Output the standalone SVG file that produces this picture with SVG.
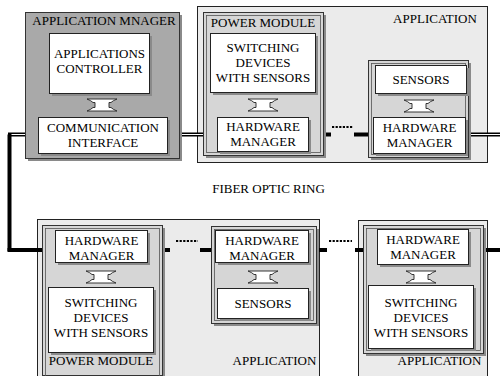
<svg xmlns="http://www.w3.org/2000/svg" width="500" height="376" viewBox="0 0 500 376">
  <defs>
    <style>
      text { font-family: "Liberation Serif", "Times New Roman", serif; font-size: 13px; fill: #000; text-anchor: middle; }
      .panel { fill: #ebebeb; stroke: #222; stroke-width: 1; }
      .mgr { fill: #a9a9a9; stroke: #333; stroke-width: 1; }
      .mod { fill: #d6d6d6; stroke: #333; stroke-width: 1; }
      .modin { fill: none; stroke: #555; stroke-width: 0.8; }
      .box { fill: #fff; stroke: #222; stroke-width: 1; }
      .shadow { fill: #8a8a8a; }
      .arrow { fill: #fff; stroke: #222; stroke-width: 0.9; }
      .ring { stroke: #000; stroke-width: 4; fill: none; }
      .ringcore { stroke: #fff; stroke-width: 1; fill: none; }
      .dots { stroke: #000; stroke-width: 2.2; stroke-dasharray: 2.2 1.4; fill: none; }
    </style>
    <!-- hollow double-headed link between stacked boxes -->
    <path id="dbl" class="arrow" d="M-15,0.5 H15 Q11,2 9,4 H7 V9 H9 Q11,11 15,12.5 H-15 Q-11,11 -9,9 H-7 V4 H-9 Q-11,2 -15,0.5 Z"/>
  </defs>

  <!-- background panels -->
  <g id="app-top">
    <rect class="panel" x="197.5" y="6.5" width="290" height="156"/>
    <text x="435" y="23">APPLICATION</text>
  </g>
  <g id="app-bottom-mid">
    <rect class="panel" x="37.5" y="219.5" width="282" height="170"/>
    <text x="274.5" y="365">APPLICATION</text>
  </g>
  <g id="app-bottom-right">
    <rect class="panel" x="358.5" y="220.5" width="129" height="170"/>
    <text x="439.5" y="365">APPLICATION</text>
  </g>

  <!-- fiber optic ring -->
  <g id="connectors">
    <path class="ring" d="M9.5,134.5 V251"/>
    <path class="ring" d="M8,134.5 H38"/>
    <path class="ringcore" d="M11.5,134.5 H38"/>
    <path class="ring" d="M167,134.5 H217"/>
    <path class="ringcore" d="M167,134.5 H217"/>
    <path class="ring" d="M308,134.5 H331"/>
    <path class="ring" d="M354,134.5 H373"/>
    <path class="ring" d="M465,134.5 H500"/>
    <path class="ringcore" d="M465,134.5 H500"/>
    <path class="dots" d="M332,127 H353"/>
    <path class="ring" d="M7.5,250 H55"/>
    <path class="ring" d="M147,250 H170"/>
    <path class="dots" d="M176,241 H198"/>
    <path class="ring" d="M200,250 H215"/>
    <path class="ring" d="M308,250 H327"/>
    <path class="dots" d="M329,241 H352"/>
    <path class="ring" d="M355,250 H377"/>
    <path class="ring" d="M468,250 H500"/>
  </g>

  <text id="ring-label" x="268.5" y="193">FIBER OPTIC RING</text>

  <!-- application manager -->
  <g id="app-manager">
    <rect class="shadow" x="28" y="15" width="154" height="146"/>
    <rect class="mgr" x="25.5" y="12.5" width="154" height="146"/>
    <text x="104" y="25">APPLICATION MNAGER</text>
  </g>
  <g id="apps-controller">
    <rect class="shadow" x="52" y="36" width="100" height="60"/>
    <rect class="box" x="49.5" y="33.5" width="100" height="60"/>
    <text x="99.5" y="58">APPLICATIONS</text>
    <text x="99.5" y="73">CONTROLLER</text>
  </g>
  <use href="#dbl" x="102" y="98.5"/>
  <g id="comm-interface">
    <rect class="shadow" x="41" y="120" width="129" height="36"/>
    <rect class="box" x="38.5" y="117.5" width="129" height="36"/>
    <text x="103" y="132">COMMUNICATION</text>
    <text x="103" y="147">INTERFACE</text>
  </g>

  <!-- top power module -->
  <g id="power-module-top">
    <rect class="shadow" x="206" y="15" width="120" height="143"/>
    <rect class="mod" x="203.5" y="12.5" width="120" height="143"/>
    <rect class="modin" x="206.5" y="15.5" width="114" height="137"/>
    <text x="263" y="27">POWER MODULE</text>
  </g>
  <g id="switching-top">
    <rect class="shadow" x="213" y="36" width="105" height="59"/>
    <rect class="box" x="210.5" y="33.5" width="105" height="59"/>
    <text x="263" y="52">SWITCHING</text>
    <text x="263" y="67">DEVICES</text>
    <text x="263" y="82">WITH SENSORS</text>
  </g>
  <use href="#dbl" x="263" y="98.5"/>
  <g id="hw-manager-top-1">
    <rect class="shadow" x="220" y="120" width="91" height="34"/>
    <rect class="box" x="217.5" y="117.5" width="91" height="34"/>
    <text x="263" y="131">HARDWARE</text>
    <text x="263" y="146">MANAGER</text>
  </g>

  <!-- top sensor module -->
  <g id="sensor-module-top">
    <rect class="shadow" x="371" y="63" width="100" height="97"/>
    <rect class="mod" x="368.5" y="60.5" width="100" height="97"/>
    <rect class="modin" x="371.5" y="63.5" width="94" height="91"/>
  </g>
  <g id="sensors-top">
    <rect class="shadow" x="378" y="68" width="91" height="28"/>
    <rect class="box" x="375.5" y="65.5" width="91" height="28"/>
    <text x="421" y="84">SENSORS</text>
  </g>
  <use href="#dbl" x="419" y="99.5"/>
  <g id="hw-manager-top-2">
    <rect class="shadow" x="376" y="120" width="92" height="36"/>
    <rect class="box" x="373.5" y="117.5" width="92" height="36"/>
    <text x="419.5" y="132">HARDWARE</text>
    <text x="419.5" y="147">MANAGER</text>
  </g>

  <!-- bottom power module -->
  <g id="power-module-bottom">
    <rect class="shadow" x="45" y="228" width="120" height="150"/>
    <rect class="mod" x="42.5" y="225.5" width="120" height="150"/>
    <rect class="modin" x="45.5" y="228.5" width="114" height="150"/>
    <text x="101" y="365">POWER MODULE</text>
  </g>
  <g id="hw-manager-bottom-1">
    <rect class="shadow" x="58" y="233" width="92" height="32"/>
    <rect class="box" x="55.5" y="230.5" width="92" height="32"/>
    <text x="101.5" y="245">HARDWARE</text>
    <text x="101.5" y="260">MANAGER</text>
  </g>
  <use href="#dbl" x="101" y="270.5"/>
  <g id="switching-bottom-1">
    <rect class="shadow" x="51" y="290" width="105" height="65"/>
    <rect class="box" x="48.5" y="287.5" width="105" height="65"/>
    <text x="101" y="307">SWITCHING</text>
    <text x="101" y="322">DEVICES</text>
    <text x="101" y="337">WITH SENSORS</text>
  </g>

  <!-- bottom sensor module -->
  <g id="sensor-module-bottom">
    <rect class="shadow" x="214" y="229" width="105" height="97"/>
    <rect class="mod" x="211.5" y="226.5" width="105" height="97"/>
    <rect class="modin" x="214.5" y="229.5" width="99" height="91"/>
  </g>
  <g id="hw-manager-bottom-2">
    <rect class="shadow" x="218" y="233" width="93" height="32"/>
    <rect class="box" x="215.5" y="230.5" width="93" height="32"/>
    <text x="262" y="245">HARDWARE</text>
    <text x="262" y="260">MANAGER</text>
  </g>
  <use href="#dbl" x="263" y="270.5"/>
  <g id="sensors-bottom">
    <rect class="shadow" x="220" y="291" width="91" height="30"/>
    <rect class="box" x="217.5" y="288.5" width="91" height="30"/>
    <text x="263" y="308">SENSORS</text>
  </g>

  <!-- bottom right power module -->
  <g id="power-module-right">
    <rect class="shadow" x="366" y="228" width="120" height="128"/>
    <rect class="mod" x="363.5" y="225.5" width="120" height="128"/>
    <rect class="modin" x="366.5" y="228.5" width="114" height="122"/>
  </g>
  <g id="hw-manager-bottom-3">
    <rect class="shadow" x="380" y="232" width="91" height="35"/>
    <rect class="box" x="377.5" y="229.5" width="91" height="35"/>
    <text x="423" y="244">HARDWARE</text>
    <text x="423" y="259">MANAGER</text>
  </g>
  <use href="#dbl" x="421" y="270.5"/>
  <g id="switching-bottom-2">
    <rect class="shadow" x="371" y="288" width="105" height="63"/>
    <rect class="box" x="368.5" y="285.5" width="105" height="63"/>
    <text x="421" y="307">SWITCHING</text>
    <text x="421" y="322">DEVICES</text>
    <text x="421" y="337">WITH SENSORS</text>
  </g>
</svg>
